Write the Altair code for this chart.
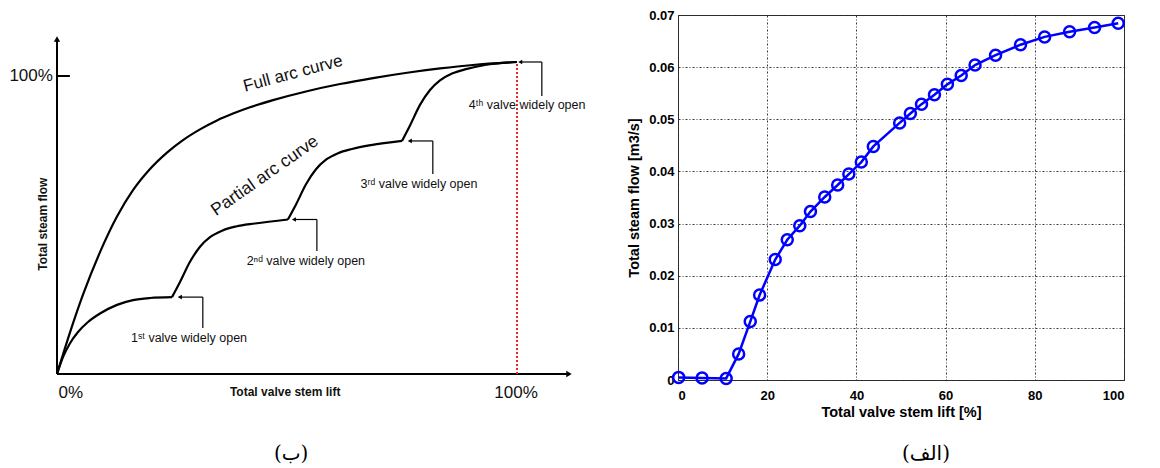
import altair as alt
import pandas as pd

# ---------------- Left schematic (percent units) ----------------
full_lift = [0, 2.83, 5.65, 9.35, 13.04, 16.52, 20.22, 23.91, 27.39, 31.09, 34.78, 38.26,
             41.96, 46.96, 54.35, 61.52, 68.7, 76.1, 83.3, 90.4, 100]
full_flow = [0, 13.96, 26.6, 40.9, 52.85, 61.7, 68.8, 74.3, 78.5, 82.1, 85.1, 87.4,
             89.5, 91.9, 94.9, 97.3, 99.3, 101.1, 102.55, 103.7, 104.7]

part_seg = [1] * 10 + [2] * 9 + [3] * 9 + [4] * 9
part_lift = [0, 1.30, 2.83, 4.57, 6.74, 9.35, 13.04, 16.52, 20.22, 25.0,
             25.0, 26.74, 28.91, 31.09, 33.26, 35.87, 38.91, 43.04, 50.2,
             50.2, 51.96, 54.13, 56.3, 58.48, 61.09, 64.13, 68.26, 75.0,
             75.0, 76.74, 78.91, 81.09, 83.26, 85.87, 88.91, 93.04, 100]
part_flow = [0, 5.64, 10.34, 14.1, 17.45, 20.3, 23.2, 24.8, 25.5, 25.8,
             25.8, 30.9, 37.65, 42.7, 45.9, 48.1, 49.5, 50.5, 51.85,
             51.85, 56.9, 63.66, 68.7, 71.9, 74.1, 75.5, 76.8, 78.2,
             78.2, 83.4, 90.3, 95.3, 98.5, 100.8, 102.3, 103.7, 104.7]

# annotation arrows: arrow tip, elbow, top and lower end
ann_tip_lift = [26.7, 51.5, 76.7, 100.7]
ann_elbow_lift = [31.7, 56.5, 81.7, 105.4]
ann_top_flow = [25.8, 51.85, 78.2, 104.7]
ann_bottom_flow = [15.4, 41.3, 67.1, 93.3]
ann_text = ["1ˢᵗ valve widely open", "2ⁿᵈ valve widely open",
            "3ʳᵈ valve widely open", "4ᵗʰ valve widely open"]
ann_text_lift = [28.7, 54.1, 78.7, 102.2]
ann_text_flow = [12.1, 37.9, 63.8, 90.3]

axis_x_end = 111.3
axis_y_end = 112.4

# ---------------- Right measured data ----------------
lift_pct = [0.15, 5.4, 10.8, 13.6, 16.2, 18.3, 21.8, 24.5, 27.3, 29.7, 32.9, 35.8,
            38.3, 41.1, 43.8, 49.7, 52.1, 54.6, 57.5, 60.4, 63.5, 66.6, 71.2, 76.8,
            82.2, 87.8, 93.4, 98.7]
steam_flow = [0.0005, 0.0004, 0.0003, 0.0050, 0.0112, 0.0163, 0.0231, 0.0269, 0.0296,
              0.0323, 0.0351, 0.0374, 0.0395, 0.0418, 0.0448, 0.0493, 0.0511, 0.0529,
              0.0547, 0.0567, 0.0584, 0.0604, 0.0623, 0.0643, 0.0658, 0.0668, 0.0676,
              0.0684]
x_ticks = [0, 20, 40, 60, 80, 100]
y_ticks = [0, 0.01, 0.02, 0.03, 0.04, 0.05, 0.06, 0.07]

captions = ["(ب)", "(الف)"]

FONT = "Liberation Sans"

# ---------- left panel ----------
xs = alt.Scale(domain=[0, 100], range=[49, 509])
ys = alt.Scale(domain=[0, 100], range=[359, 61])
X = lambda f: alt.X(f, type="quantitative", scale=xs, axis=None)
Y = lambda f: alt.Y(f, type="quantitative", scale=ys, axis=None)

full_df = pd.DataFrame({"x": full_lift, "y": full_flow})
part_df = pd.DataFrame({"x": part_lift, "y": part_flow, "seg": part_seg})

axes_df = pd.DataFrame({
    "x": [0, 0, 0], "y": [0, 0, 100],
    "x2": [axis_x_end, 0, 2.8], "y2": [0, axis_y_end, 100]})
arrow_df = pd.DataFrame({
    "x": ann_elbow_lift * 2, "y": ann_top_flow * 2,
    "x2": ann_tip_lift + ann_elbow_lift, "y2": ann_top_flow + ann_bottom_flow})
head_df = pd.DataFrame({"x": ann_tip_lift, "y": ann_top_flow})
ann_df = pd.DataFrame({"x": ann_text_lift, "y": ann_text_flow, "t": ann_text})
red_df = pd.DataFrame({"x": [100], "y": [0], "y2": [104.7]})

axes_l = alt.Chart(axes_df).mark_rule(color="black", strokeWidth=2).encode(
    x=X("x"), y=Y("y"), x2="x2", y2="y2")
yhead = alt.Chart(pd.DataFrame({"x": [0], "y": [axis_y_end]})).mark_point(
    shape="triangle-up", filled=True, color="black", size=40, opacity=1).encode(x=X("x"), y=Y("y"))
xhead = alt.Chart(pd.DataFrame({"x": [axis_x_end], "y": [0]})).mark_point(
    shape="triangle-right", filled=True, color="black", size=40, opacity=1).encode(x=X("x"), y=Y("y"))
red = alt.Chart(red_df).mark_rule(color="#ee2222", strokeWidth=2, strokeDash=[2, 2]).encode(
    x=X("x"), y=Y("y"), y2="y2")
full_line = alt.Chart(full_df).mark_line(color="black", strokeWidth=2.2, interpolate="monotone").encode(
    x=X("x"), y=Y("y"))
part_line = alt.Chart(part_df).mark_line(color="black", strokeWidth=2.2, interpolate="monotone").encode(
    x=X("x"), y=Y("y"), detail="seg:N")
arrows = alt.Chart(arrow_df).mark_rule(color="black", strokeWidth=1.2).encode(
    x=X("x"), y=Y("y"), x2="x2", y2="y2")
heads = alt.Chart(head_df).mark_point(shape="triangle-left", filled=True, color="black",
                                      size=22, opacity=1).encode(x=X("x"), y=Y("y"))
ann = alt.Chart(ann_df).mark_text(font=FONT, fontSize=12.5, color="#111").encode(
    x=X("x"), y=Y("y"), text="t:N")

big_df = pd.DataFrame({"x": [-0.9, 3.0, 99.8], "y": [100, -6.4, -6.4],
                       "t": ["100%", "0%", "100%"]})
big_r = alt.Chart(big_df.iloc[[0]]).mark_text(font=FONT, fontSize=17, align="right", color="#111").encode(
    x=X("x"), y=Y("y"), text="t:N")
big_c = alt.Chart(big_df.iloc[[1, 2]]).mark_text(font=FONT, fontSize=17, align="center", color="#111").encode(
    x=X("x"), y=Y("y"), text="t:N")
xlab = alt.Chart(pd.DataFrame({"x": [49.6], "y": [-6.2], "t": ["Total valve stem lift"]})).mark_text(
    font=FONT, fontSize=12, fontWeight="bold", color="#111").encode(x=X("x"), y=Y("y"), text="t:N")
ylab = alt.Chart(pd.DataFrame({"x": [-3.0], "y": [50.3], "t": ["Total steam flow"]})).mark_text(
    font=FONT, fontSize=12, fontWeight="bold", angle=270, color="#111").encode(x=X("x"), y=Y("y"), text="t:N")
full_lab = alt.Chart(pd.DataFrame({"x": [51.3], "y": [100.8], "t": ["Full arc curve"]})).mark_text(
    font=FONT, fontSize=17, angle=345, color="#111").encode(x=X("x"), y=Y("y"), text="t:N")
part_lab = alt.Chart(pd.DataFrame({"x": [45.2], "y": [66.5], "t": ["Partial arc curve"]})).mark_text(
    font=FONT, fontSize=17.5, angle=325, color="#111").encode(x=X("x"), y=Y("y"), text="t:N")
cap_l = alt.Chart(pd.DataFrame({"x": [50.9], "y": [-26.8], "t": [captions[0]]})).mark_text(
    font="DejaVu Serif, DejaVu Sans", fontSize=20, color="black").encode(x=X("x"), y=Y("y"), text="t:N")

left = alt.layer(axes_l, yhead, xhead, red, full_line, part_line, arrows, heads, ann,
                 big_r, big_c, xlab, ylab, full_lab, part_lab, cap_l).properties(
    width=600, height=452, view=alt.ViewBackground(stroke=None))

# ---------- right panel ----------
rdf = pd.DataFrame({"lift": lift_pct, "flow": steam_flow})
rx = alt.X("lift:Q", scale=alt.Scale(domain=[0, 100], nice=False),
           axis=alt.Axis(values=x_ticks, title="Total valve stem lift [%]", grid=True,
                         ticks=False, domain=False, labelPadding=9, titlePadding=3,
                         labelFont=FONT, labelFontSize=13, labelFontWeight="bold", labelColor="black",
                         titleFont=FONT, titleFontSize=14.5, titleFontWeight="bold", titleColor="black",
                         gridColor="#222", gridDash=[2, 2, 1, 2], gridOpacity=0.9))
ry = alt.Y("flow:Q", scale=alt.Scale(domain=[0, 0.07], nice=False, zero=True),
           axis=alt.Axis(values=y_ticks, title="Total steam flow [m3/s]", grid=True,
                         labelExpr="datum.value == 0 ? '0' : format(datum.value, '.2f')",
                         ticks=False, domain=False, labelPadding=4, titlePadding=7,
                         labelFont=FONT, labelFontSize=13, labelFontWeight="bold", labelColor="black",
                         titleFont=FONT, titleFontSize=14.5, titleFontWeight="bold", titleColor="black",
                         gridColor="#222", gridDash=[2, 2, 1, 2], gridOpacity=0.9))
rline = alt.Chart(rdf).mark_line(color="#0000ff", strokeWidth=2.5).encode(x=rx, y=ry)
rpts = alt.Chart(rdf).mark_point(shape="circle", filled=False, color="#0000ff", strokeWidth=2.5,
                                 size=121, opacity=1).encode(x="lift:Q", y="flow:Q")
cap_r = alt.Chart(pd.DataFrame({"lift": [55.6], "flow": [-0.0142], "t": [captions[1]]})).mark_text(
    font="DejaVu Serif, DejaVu Sans", fontSize=20, color="black").encode(x="lift:Q", y="flow:Q", text="t:N")
right = alt.layer(rline, rpts, cap_r).properties(
    width=446, height=365, view=alt.ViewBackground(stroke="#333", strokeWidth=1))

chart = alt.hconcat(left, right, spacing=18).properties(padding=0).configure_view(stroke=None)

chart.save("out.html", embed_options={"renderer": "svg", "actions": False})
